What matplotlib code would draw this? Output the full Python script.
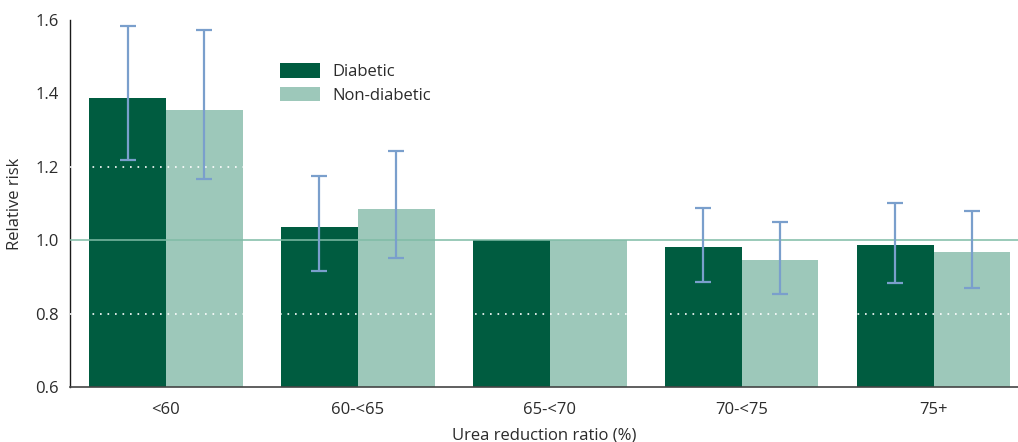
import numpy as np
import matplotlib
matplotlib.use('Agg')
import matplotlib.pyplot as plt
from matplotlib.patches import Patch

# relative risk by urea reduction ratio group
aCategory = ['<60', '60-<65', '65-<70', '70-<75', '75+']
aRisk_diabetic = [1.388, 1.036, 1.0, 0.981, 0.987]
aRisk_nondiabetic = [1.355, 1.085, 1.0, 0.946, 0.968]
aLower_diabetic = [1.219, 0.916, np.nan, 0.886, 0.883]
aUpper_diabetic = [1.584, 1.175, np.nan, 1.088, 1.102]
aLower_nondiabetic = [1.167, 0.951, np.nan, 0.854, 0.871]
aUpper_nondiabetic = [1.573, 1.243, np.nan, 1.050, 1.079]
aLabel_legend = ['Diabetic', 'Non-diabetic']
aTick_y = [0.6, 0.8, 1.0, 1.2, 1.4, 1.6]

sColor_dark = '#005c40'
sColor_light = '#9dc8ba'
sColor_error = '#7a9fcc'
sColor_ref = '#7fbca6'
sColor_text = '#2b2b2b'

plt.rcParams['font.family'] = ['Open Sans', 'DejaVu Sans']
iFont = 12

iDPI = 100
fig = plt.figure(figsize=(10.18, 4.42), dpi=iDPI)
ax = fig.add_axes([70 / 1018, 55 / 442, 948 / 1018, 367 / 442])

x = np.arange(len(aCategory))
dWidth = 0.40
dBase = 0.6

aHeight_d = np.array(aRisk_diabetic) - dBase
aHeight_n = np.array(aRisk_nondiabetic) - dBase
ax.bar(x - dWidth / 2, aHeight_d, dWidth, bottom=dBase, color=sColor_dark, zorder=2)
ax.bar(x + dWidth / 2, aHeight_n, dWidth, bottom=dBase, color=sColor_light, zorder=2)

# confidence intervals
for dOff, aRisk, aLow, aUp in [(-dWidth / 2, aRisk_diabetic, aLower_diabetic, aUpper_diabetic),
                               (dWidth / 2, aRisk_nondiabetic, aLower_nondiabetic, aUpper_nondiabetic)]:
    aRisk = np.array(aRisk)
    aLow = np.array(aLow)
    aUp = np.array(aUp)
    mask = ~np.isnan(aLow)
    yerr = np.vstack([aRisk[mask] - aLow[mask], aUp[mask] - aRisk[mask]])
    ax.errorbar(x[mask] + dOff, aRisk[mask], yerr=yerr, fmt='none',
                ecolor=sColor_error, elinewidth=1.6, capsize=5.8, capthick=1.6, zorder=4)

# reference line and dotted guides
ax.axhline(1.0, color=sColor_ref, linewidth=1.1, zorder=3)
for dGuide in [0.8, 1.2]:
    ax.axhline(dGuide, color='white', linewidth=1.2, linestyle=(0, (1, 3.5)), zorder=3)

ax.set_xlim(-0.5, 4.44)
ax.set_ylim(0.6, 1.6)
ax.set_yticks(aTick_y)
ax.set_yticklabels(['%.1f' % v for v in aTick_y])
ax.set_xticks(x)
ax.set_xticklabels(aCategory)
ax.tick_params(axis='both', length=0, labelsize=iFont, colors=sColor_text)
ax.tick_params(axis='x', pad=11)
ax.tick_params(axis='y', pad=8)

ax.spines['top'].set_visible(False)
ax.spines['right'].set_visible(False)
ax.spines['left'].set_color('#1a1a1a')
ax.spines['bottom'].set_color('#444444')
ax.spines['left'].set_linewidth(1.0)
ax.spines['bottom'].set_linewidth(1.2)

ax.set_xlabel('Urea reduction ratio (%)', fontsize=iFont, color=sColor_text, labelpad=7)
ax.set_ylabel('Relative risk', fontsize=iFont, color=sColor_text, labelpad=9)

aHandle = [Patch(facecolor=sColor_dark), Patch(facecolor=sColor_light)]
leg = ax.legend(aHandle, aLabel_legend, loc='upper left',
                bbox_to_anchor=(280 / 1018, 1 - 63 / 442), bbox_transform=fig.transFigure,
                frameon=False, fontsize=iFont, borderpad=0, handlelength=2.4, handleheight=1.0,
                labelspacing=0.38, handletextpad=0.75, borderaxespad=0)
for t in leg.get_texts():
    t.set_color(sColor_text)

fig.savefig('out.png', dpi=iDPI)
plt.close('all')
